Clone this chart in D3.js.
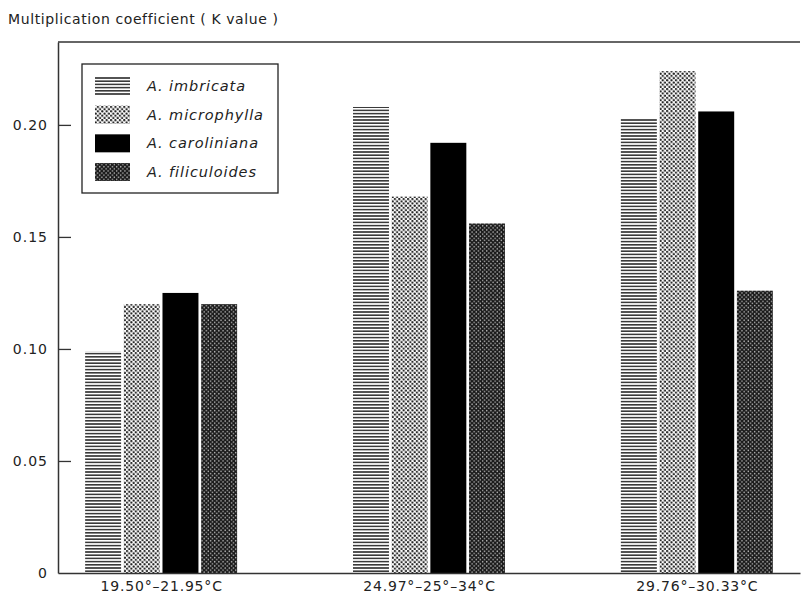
<!DOCTYPE html>
<html>
<head>
<meta charset="utf-8">
<script src="https://cdn.jsdelivr.net/npm/d3@7"></script>
<style>
    body { margin: 0; background: #fff; }
    svg text { font-family: "DejaVu Sans", "Liberation Sans", sans-serif; fill: #222; }
</style>
</head>
<body>
<svg id="chart" width="802" height="605"></svg>
<script>
// temperature ranges on the x axis
const categories = ["19.50°–21.95°C", "24.97°–25°–34°C", "29.76°–30.33°C"];
const species = ["A. imbricata", "A. microphylla", "A. caroliniana", "A. filiculoides"];
// K value per species, one entry per temperature range
const imbricata = [0.099, 0.208, 0.203];
const microphylla = [0.120, 0.168, 0.224];
const caroliniana = [0.125, 0.192, 0.206];
const filiculoides = [0.120, 0.156, 0.126];
const yTicks = [0, 0.05, 0.10, 0.15, 0.20];
const yTickLabels = ["0", "0.05", "0.10", "0.15", "0.20"];

const seriesValues = [imbricata, microphylla, caroliniana, filiculoides];
const fills = ["url(#lines)", "url(#dotsLight)", "#000", "url(#dotsDark)"];

let svg = d3.select("#chart");
let marge = {top: 42, right: 2, bottom: 32, left: 58};
let width = 802, height = 605;

let y = d3.scaleLinear().domain([0, 0.237]).range([height - marge.bottom, marge.top]);
let x0 = d3.scalePoint().domain(categories).range([marge.left, width - marge.right]).padding(0.385);
let x1 = d3.scaleBand().domain(species).range([-76, 76]).paddingInner(0.07);

// fill patterns
let defs = svg.append("defs");
let pLines = defs.append("pattern").attr("id", "lines")
    .attr("patternUnits", "userSpaceOnUse").attr("width", 6).attr("height", 3.2);
pLines.append("rect").attr("width", 6).attr("height", 3.2).attr("fill", "#fff");
pLines.append("rect").attr("y", 0.8).attr("width", 6).attr("height", 1.6).attr("fill", "#3a3a3a");

let pLight = defs.append("pattern").attr("id", "dotsLight")
    .attr("patternUnits", "userSpaceOnUse").attr("width", 4.4).attr("height", 4.4);
pLight.append("rect").attr("width", 4.4).attr("height", 4.4).attr("fill", "#fff");
[[1.1, 1.1], [3.3, 3.3]].forEach(c => {
    pLight.append("circle").attr("cx", c[0]).attr("cy", c[1]).attr("r", 1.15).attr("fill", "#222");
});

let pDark = defs.append("pattern").attr("id", "dotsDark")
    .attr("patternUnits", "userSpaceOnUse").attr("width", 4.2).attr("height", 4.2);
pDark.append("rect").attr("width", 4.2).attr("height", 4.2).attr("fill", "#1a1a1a");
[[1.05, 1.05], [3.15, 3.15]].forEach(c => {
    pDark.append("circle").attr("cx", c[0]).attr("cy", c[1]).attr("r", 0.75).attr("fill", "#bbb");
});

// bars
let groups = svg.append("g").selectAll("g")
    .data(categories)
    .join("g")
    .attr("transform", d => "translate(" + x0(d) + ",0)");

groups.selectAll("rect")
    .data((d, i) => species.map((s, j) => ({s: s, j: j, v: seriesValues[j][i]})))
    .join("rect")
    .attr("x", d => x1(d.s))
    .attr("width", x1.bandwidth())
    .attr("y", d => y(d.v))
    .attr("height", d => y(0) - y(d.v))
    .attr("fill", d => fills[d.j]);

// frame: top line and left axis
svg.append("line")
    .attr("x1", marge.left).attr("x2", width - marge.right)
    .attr("y1", marge.top).attr("y2", marge.top)
    .attr("stroke", "#333").attr("stroke-width", 1.5);

let yAxis = svg.append("g")
    .attr("transform", "translate(" + marge.left + ",0)")
    .call(d3.axisLeft(y).tickValues(yTicks).tickSize(-13).tickSizeOuter(0).tickPadding(10)
        .tickFormat((d, i) => yTickLabels[i]));
yAxis.select(".domain").attr("stroke", "#333").attr("stroke-width", 1.5);
yAxis.selectAll(".tick line").attr("stroke", "#333").attr("stroke-width", 1.3);
yAxis.selectAll(".tick text").style("font-size", "14px").style("letter-spacing", "1px").attr("fill", "#222");
yAxis.selectAll(".tick").filter(d => d === 0).select("line").remove();

let xAxis = svg.append("g")
    .attr("transform", "translate(0," + y(0) + ")")
    .call(d3.axisBottom(x0).tickSize(0).tickSizeOuter(0).tickPadding(8));
xAxis.select(".domain").attr("stroke", "#333").attr("stroke-width", 1.5);
xAxis.selectAll(".tick text").style("font-size", "14px").style("letter-spacing", "0.8px").attr("fill", "#222");

// title
svg.append("text")
    .attr("x", 8).attr("y", 24)
    .style("font-size", "14px").style("letter-spacing", "0.6px")
    .text("Multiplication coefficient ( K value )");

// legend
let legend = svg.append("g");
legend.append("rect")
    .attr("x", 82).attr("y", 64).attr("width", 196).attr("height", 129)
    .attr("fill", "#fff").attr("stroke", "#222").attr("stroke-width", 1.3);
let rowY = d3.scalePoint().domain(species).range([86, 172]);
let row = legend.selectAll("g.row")
    .data(species)
    .join("g")
    .attr("class", "row")
    .attr("transform", d => "translate(0," + rowY(d) + ")");
row.append("rect")
    .attr("x", 95).attr("y", -9).attr("width", 35).attr("height", 18)
    .attr("fill", (d, i) => fills[i]);
row.append("text")
    .attr("x", 147).attr("dy", "0.35em")
    .style("font-size", "14.5px").style("font-style", "italic").style("letter-spacing", "0.9px")
    .text(d => d);
</script>
</body>
</html>
